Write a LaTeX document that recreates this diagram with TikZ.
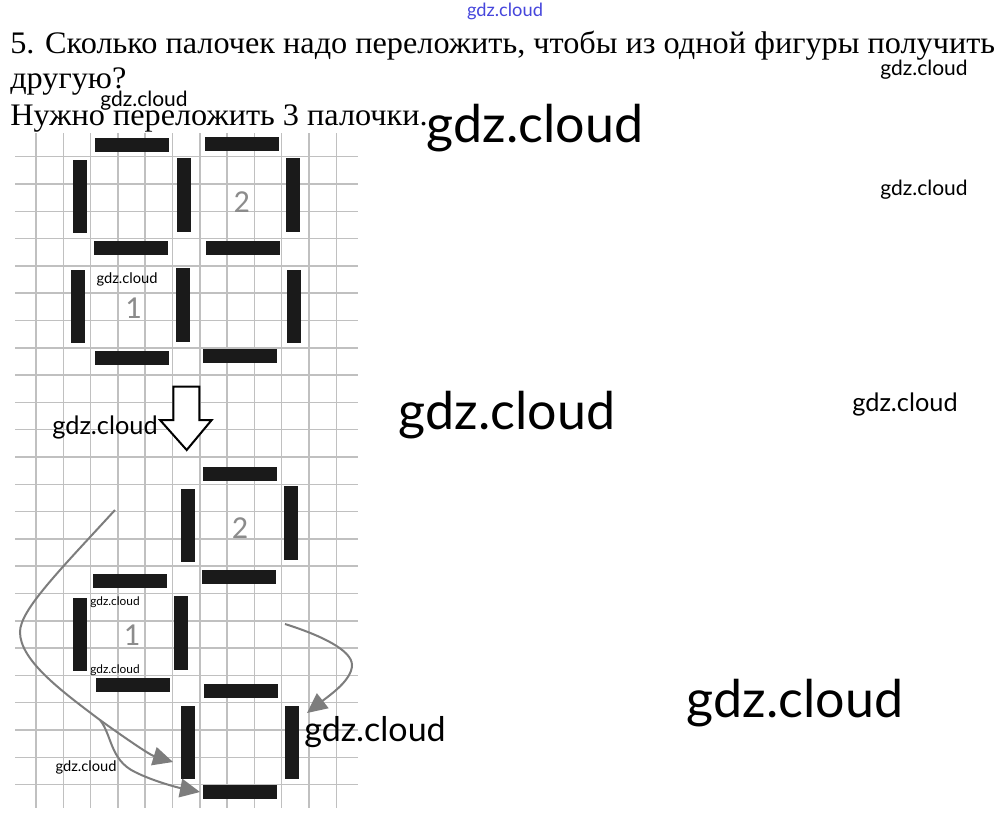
\documentclass[tikz,border=0pt]{standalone}
\usepackage{fontspec}
\usepackage{graphicx}
\setmainfont{Liberation Serif}
\newfontfamily\wmfont{Lato}
\newfontfamily\digitfont{Carlito}
\usetikzlibrary{arrows.meta}
\definecolor{stickblack}{RGB}{26,26,26}
\definecolor{gridgray}{RGB}{192,192,192}
\definecolor{arrowgray}{RGB}{125,125,125}
\definecolor{labelgray}{RGB}{140,140,140}
\definecolor{wmblue}{RGB}{70,70,220}
\newcommand{\wide}[1]{\scalebox{1.03}[1]{#1}}
\tikzset{
  hstick/.style  ={rectangle, fill=stickblack, inner sep=0pt,
                   minimum width=55.5pt, minimum height=10.5pt},
  vstick/.style  ={rectangle, fill=stickblack, inner sep=0pt,
                   minimum width=10.5pt, minimum height=55pt},
  gridline/.style={draw=gridgray, line width=1.1pt},
  move/.style    ={-{Triangle[length=15pt,width=14pt]}, draw=arrowgray, line width=1.5pt},
  bigarrow/.style={draw=black, line width=1.5pt, fill=white, line join=miter},
  digit/.style   ={font=\digitfont\fontsize{24}{24}\selectfont, text=labelgray, inner sep=0pt},
  wm/.style      ={inner sep=0pt, text=black},
  title/.style   ={anchor=base west, inner sep=0pt, font=\fontsize{23.5}{28}\selectfont}
}

\begin{document}
\begin{tikzpicture}[x=0.75pt, y=-0.75pt]
\useasboundingbox (0,0) rectangle (1008,815);
\fill[white] (0,0) rectangle (1008,815);
% squared paper
\foreach \i in {0,...,11}
  \draw[gridline] ({36+27.3*\i},133) -- ({36+27.3*\i},808);
\foreach \j in {0,...,23}
  \draw[gridline] (15,{156.7+27.3*\j}) -- (358,{156.7+27.3*\j});
% task text
\node[title] (q1) at (10,53) {\wide{5. Сколько палочек надо переложить, чтобы из одной фигуры получить}};
\node[title] (q2) at (10,88) {\wide{другую?}};
\node[title] (ans) at (10,125) {\wide{Нужно переложить 3 палочки.}};
% first figure
\foreach \n/\x/\y in {ha/131.7/145.3, hb/241.7/144, hc/131.3/248.3, hd/242.7/248.3, he/131.7/357.5, hf/240/356.3}
  \node[hstick] (\n) at (\x,\y) {};
\foreach \n/\x/\y in {va/80.3/196.7, vb/184.2/195, vc/292.5/195, vd/77.7/306.7, ve/183/305, vf/294.2/306.7}
  \node[vstick] (\n) at (\x,\y) {};
\node[digit] (sqTwo) at (241.7,201.7) {2};
\node[digit] (sqOne) at (133.3,308.3) {1};
% hollow arrow
\draw[bigarrow] (173.3,386.7) -- (199.3,386.7) -- (199.3,420) -- (211.7,420)
  -- (186.7,450) -- (160,420) -- (173.3,420) -- cycle;
% second figure
\foreach \n/\x/\y in {hg/240/474, hh/238.8/576.7, hi/129.7/580.5, hj/132.5/684.5, hk/240.5/690.8, hl/239.5/792.2}
  \node[hstick] (\n) at (\x,\y) {};
\foreach \n/\x/\y in {vg/187.5/525.8, vh/290.8/523, vi/79.7/634.2, vj/180.7/633, vk/188.3/742.7, vl/292/742.7}
  \node[vstick] (\n) at (\x,\y) {};
\node[digit] (nwTwo) at (240,528.3) {2};
\node[digit] (nwOne) at (131.7,635) {1};
% moved sticks
\coordinate (mvAstart) at (115,510);
\coordinate (mvSplit) at (100,720);
\coordinate (mvAend) at (173,762);
\coordinate (mvBend) at (200,792);
\coordinate (mvCstart) at (285,624);
\coordinate (mvCend) at (307,713);
\draw[move] (mvAstart) .. controls (60,570) and (20,610) .. (20,632)
  .. controls (20,660) and (60,690) .. (mvSplit)
  .. controls (125,738) and (150,755) .. (mvAend);
\draw[move] (mvSplit) .. controls (112,735) and (110,760) .. (135,772)
  .. controls (155,782) and (180,788) .. (mvBend);
\draw[move] (mvCstart) .. controls (320,635) and (352,650) .. (352,665)
  .. controls (352,680) and (330,695) .. (mvCend);
% watermarks
\node[wm, text=wmblue, font=\wmfont\fontsize{13.7}{14}\selectfont] (wmTop) at (505,11) {gdz.cloud};
\foreach \n/\x/\y/\s in {wmA/535/128/39, wmB/507/415/39, wmC/795/703/39, wmD/375/732/25.5,
    wmE/905/404/19, wmF/105/427/19, wmG/924/70/15.75, wmH/924/190/15.75, wmI/144/101/15.75,
    wmJ/127/279/11, wmK/115/602/8.9, wmL/115/670/8.9, wmM/86/767/11}
  \node[wm, font=\wmfont\fontsize{\s}{\s}\selectfont] (\n) at (\x,\y) {gdz.cloud};
\end{tikzpicture}
\end{document}
